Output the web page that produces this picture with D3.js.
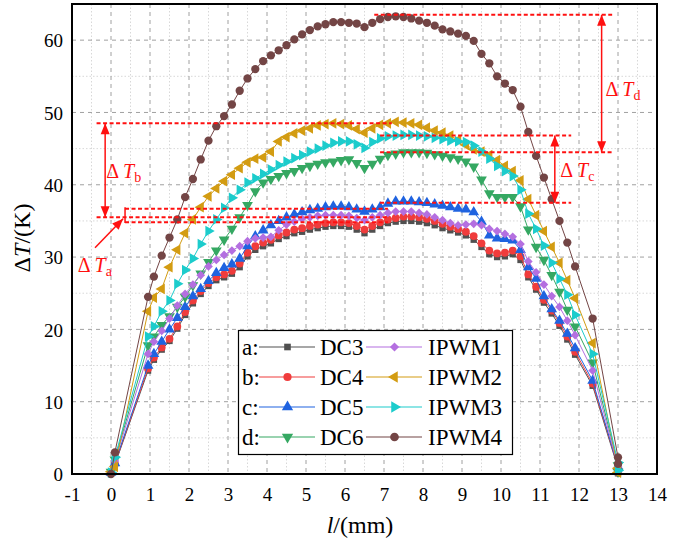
<!DOCTYPE html>
<html><head><meta charset="utf-8">
<script src="https://cdn.jsdelivr.net/npm/d3@7"></script>
<style>body{margin:0;background:#fff}svg{display:block}svg text{font-family:"Liberation Serif","Times New Roman","DejaVu Serif",serif}</style>
</head><body><svg id="c" width="681" height="549"></svg>
<script>
// ---- data ----
const xs = [0,0.1,0.95,1.1,1.3,1.5,1.7,1.9,2.1,2.3,2.5,2.7,2.9,3.1,3.3,3.5,3.7,3.9,4.1,4.3,4.5,4.7,4.9,5.1,5.3,5.5,5.7,5.9,6.1,6.3,6.5,6.7,6.9,7.1,7.3,7.5,7.7,7.9,8.1,8.3,8.5,8.7,8.9,9.1,9.3,9.5,9.7,9.9,10.1,10.3,10.5,10.7,10.9,11.1,11.3,11.5,11.7,11.9,12.35,13,13];
const dc3 = [0.1,1.3,14.3, 15.8,17.2,18.4,20.1,22.0, 23.6,24.9,26.0,26.8,27.2, 27.7,28.6,30.1,31.0,31.5, 31.9,32.5,32.9,33.3,33.5, 33.8,34.0,34.2,34.3,34.3, 34.2,33.8,33.3,33.8,34.3, 34.7,34.9,35.0,35.0,34.9, 34.7,34.4,34.0,33.7,33.4, 33.0,32.4,31.4,30.4,30.0, 30.1,30.4,29.6,27.2,25.5, 23.7,22.2,20.5,18.6,16.5, 12.2,0.8,0.1];
const dc4 = [0.2,1.4,14.6, 16.1,17.5,18.7,20.4,22.4, 24.0,25.3,26.4,27.2,27.6, 28.1,29.1,30.6,31.5,32.0, 32.4,33.0,33.4,33.8,34.0, 34.3,34.5,34.7,34.8,34.8, 34.7,34.3,33.8,34.3,34.8, 35.2,35.4,35.6,35.6,35.5, 35.3,35.0,34.6,34.2,33.9, 33.5,32.9,31.9,30.9,30.5, 30.6,30.9,30.1,27.6,25.9, 24.1,22.6,20.9,19.0,16.9, 12.5,1.0,0.2];
const dc5 = [0.2,1.5,15.0, 16.6,18.3,20.0,21.6,23.1, 24.6,25.6,26.7,27.8,28.5, 29.0,29.8,31.5,32.9,33.7, 34.4,35.0,35.5,35.9,36.2, 36.5,36.7,36.9,37.0,37.0, 36.9,36.6,36.3,36.6,36.9, 37.4,37.7,37.7,37.7,37.6, 37.5,37.3,37.1,36.9,36.7, 36.6,36.2,34.9,33.0,32.6, 32.5,32.3,31.0,28.6,27.0, 24.6,22.8,21.2,19.4,17.4, 12.9,1.0,0.3];
const dc6 = [0.3,2.0,17.8, 19.0,20.6,21.8,23.1,24.5, 26.1,27.7,29.3,30.9,32.4, 33.9,35.5,37.2,39.1,40.3, 40.8,41.2,41.6,41.9,42.3, 42.6,42.9,43.1,43.2,43.4, 43.5,43.0,42.3,42.9,43.6, 44.1,44.3,44.5,44.5,44.5, 44.4,44.2,44.0,43.8,43.6, 43.2,42.5,40.7,38.8,38.3, 38.3,38.3,37.0,33.8,31.4, 29.6,27.5,25.2,22.7,20.4, 15.4,1.2,0.3];
const ipwm1 = [0.3,1.8,16.6, 18.3,19.8,21.5,23.3,24.9, 26.2,27.5,28.7,29.6,30.3, 30.9,31.5,32.2,32.6,32.7, 32.8,33.7,34.5,34.9,35.3, 35.5,35.7,35.8,35.8,35.8, 35.7,35.4,35.1,35.5,35.8, 36.1,36.3,36.3,36.3,36.1, 35.9,35.5,35.1,34.7,34.4, 34.5,34.6,34.4,33.9,33.6, 33.2,32.8,31.8,29.4,27.9, 26.2,24.6,23.1,21.2,19.2, 14.3,1.0,0.3];
const ipwm2 = [0.3,1.0,22.5, 24.4,25.6,28.6,31.0,33.3, 35.2,36.9,38.4,39.5,40.5, 41.4,42.3,43.1,43.6,43.8, 44.6,46.0,46.6,47.1,47.5, 47.8,48.2,48.4,48.5,48.4, 48.2,47.7,47.2,47.8,48.3, 48.5,48.7,48.6,48.5,48.3, 47.9,47.5,47.2,46.8,46.2, 45.5,44.9,44.6,44.1,43.4, 42.6,41.9,40.6,38.0,35.8, 33.6,31.4,29.2,26.8,24.3, 18.1,0.8,0.2];
const ipwm3 = [0.2,2.3,19.0, 20.4,22.5,24.0,26.3,28.2, 29.8,31.8,33.6,35.2,36.8, 38.2,39.3,40.3,40.9,41.5, 42.1,42.7,43.2,43.7,44.1, 44.6,45.0,45.4,45.8,46.0, 46.0,45.6,45.1,45.9,46.4, 46.7,46.8,46.9,46.9,46.8, 46.7,46.5,46.3,46.1,46.0, 45.9,45.4,44.6,43.6,42.6, 41.9,41.2,39.3,36.0,33.9, 31.6,29.2,27.0,24.8,22.0, 16.6,1.6,0.5];
const ipwm4 = [0,3.0,24.5, 27.3,30.2,32.7,35.2,38.3, 40.8,43.5,46.1,48.1,49.5, 51.1,53.0,54.7,56.0,57.1, 57.9,58.6,59.3,60.1,60.8, 61.4,61.9,62.2,62.5,62.5, 62.4,62.3,61.8,62.4,62.9, 63.2,63.3,63.2,63.0,62.7, 62.4,62.0,61.5,61.2,60.9, 60.6,59.9,58.1,56.8,55.0, 54.0,53.1,50.8,47.3,44.0, 41.0,38.0,35.0,32.0,28.7, 21.5,2.3,1.4];
const seriesNames = ["DC3","DC4","DC5","DC6","IPWM1","IPWM2","IPWM3","IPWM4"];
const rowLetters = ["a:","b:","c:","d:"];
const xTicks = [-1,0,1,2,3,4,5,6,7,8,9,10,11,12,13,14];
const yTicks = [0,10,20,30,40,50,60];

const seriesValues = [dc3,dc4,dc5,dc6,ipwm1,ipwm2,ipwm3,ipwm4];
const colors = ["#505050","#f03c3c","#1f63e0","#35a862","#b46fe0","#d39c12","#1ccccc","#734545"];
const shapes = [
  {t:d3.symbolSquare,s:40,r:0},
  {t:d3.symbolCircle,s:48,r:0},
  {t:d3.symbolTriangle,s:50,r:0},
  {t:d3.symbolTriangle,s:50,r:180},
  {t:d3.symbolSquare,s:38,r:45},
  {t:d3.symbolTriangle,s:50,r:-90},
  {t:d3.symbolTriangle,s:50,r:90},
  {t:d3.symbolCircle,s:54,r:0}
];

const svg = d3.select("#c");
const L=72,R=657,T=4,B=474;
const x = d3.scaleLinear().domain([-1,14]).range([L,R]);
const y = d3.scaleLinear().domain([0,65]).range([B,T]);

// grid
const g = svg.append("g");
d3.range(-0.5,14,1).forEach(v=>g.append("line").attr("x1",x(v)).attr("x2",x(v)).attr("y1",T).attr("y2",B).attr("stroke","#d8d8d8").attr("stroke-width",1).attr("stroke-dasharray","1.5,2"));
[5,15,25,35,45,55].forEach(v=>g.append("line").attr("x1",L).attr("x2",R).attr("y1",y(v)).attr("y2",y(v)).attr("stroke","#d8d8d8").attr("stroke-width",1).attr("stroke-dasharray","1.5,2"));
d3.range(0,14).forEach(v=>g.append("line").attr("x1",x(v)).attr("x2",x(v)).attr("y1",T).attr("y2",B).attr("stroke","#a0a0a0").attr("stroke-width",1).attr("stroke-dasharray","4,4"));
[10,20,30,40,50,60].forEach(v=>g.append("line").attr("x1",L).attr("x2",R).attr("y1",y(v)).attr("y2",y(v)).attr("stroke","#a0a0a0").attr("stroke-width",1).attr("stroke-dasharray","4,4"));

// axes (labels only)
const xAxis = d3.axisBottom(x).tickValues(xTicks).tickFormat(d=>String(d)).tickSize(0).tickPadding(10);
const ax = svg.append("g").attr("transform",`translate(0,${B})`).call(xAxis);
ax.attr("font-family",null);
ax.select(".domain").remove();
ax.selectAll("text").attr("font-size",19).attr("fill","#000").attr("dy","0.9em");
const yAxis = d3.axisLeft(y).tickValues(yTicks).tickFormat(d=>String(d)).tickSize(0).tickPadding(9);
const ay = svg.append("g").attr("transform",`translate(${L},0)`).call(yAxis);
ay.attr("font-family",null);
ay.select(".domain").remove();
ay.selectAll("text").attr("font-size",19).attr("fill","#000").attr("dy","0.35em");

// series
const line = d3.line().x(d=>x(d[0])).y(d=>y(d[1]));
seriesValues.forEach((vals,i)=>{
  const pts = xs.map((xv,j)=>[xv,vals[j]]);
  const sg = svg.append("g");
  sg.append("path").attr("d",line(pts)).attr("fill","none").attr("stroke",colors[i]).attr("stroke-width",1);
  const sym = d3.symbol().type(shapes[i].t).size(shapes[i].s);
  sg.selectAll("path.m").data(pts).enter().append("path").attr("class","m")
    .attr("d",sym).attr("fill",colors[i])
    .attr("transform",d=>`translate(${x(d[0])},${y(d[1])}) rotate(${shapes[i].r})`);
});

// frame
svg.append("rect").attr("x",L).attr("y",T).attr("width",R-L).attr("height",B-T).attr("fill","none").attr("stroke","#000").attr("stroke-width",2);

// annotations
const red="#ff1010";
const an = svg.append("g");
function dash(x1,x2,v){an.append("line").attr("x1",x(x1)).attr("x2",x(x2)).attr("y1",y(v)).attr("y2",y(v)).attr("stroke",red).attr("stroke-width",2).attr("stroke-dasharray","4,2.5");}
function head(px,py,ang){
  an.append("path").attr("d","M0,0 L-11,-4.5 L-11,4.5 Z").attr("fill",red)
    .attr("transform",`translate(${px},${py}) rotate(${ang})`);
}
function varrow(xv,v1,v2,dbl){
  const px=x(xv), p1=y(v1), p2=y(v2);
  an.append("line").attr("x1",px).attr("x2",px).attr("y1",p1).attr("y2",p2).attr("stroke",red).attr("stroke-width",1.5);
  head(px,p2,p2>p1?90:-90);
  if(dbl) head(px,p1,p1>p2?90:-90);
}
function label(xv,v,sub){
  const t=an.append("text").attr("x",x(xv)).attr("y",y(v)).attr("font-size",20).attr("fill",red);
  t.append("tspan").text("Δ ");
  t.append("tspan").attr("font-style","italic").text("T");
  t.append("tspan").attr("font-size",14).attr("dy",4).text(sub);
}
dash(-0.37,7.2,48.5);
dash(-0.37,7.1,35.5);
dash(0.36,7.1,36.7);
dash(0.36,7.1,34.8);
an.append("line").attr("x1",x(0.36)).attr("x2",x(0.36)).attr("y1",y(36.9)).attr("y2",y(34.7)).attr("stroke",red).attr("stroke-width",1.5);
varrow(-0.15,48.5,35.5,true);
label(-0.12,41.0,"b");
{ const x1=x(-0.41),y1=y(31.3),x2=x(0.31),y2=y(35.3);
  an.append("line").attr("x1",x1).attr("y1",y1).attr("x2",x2).attr("y2",y2).attr("stroke",red).attr("stroke-width",1.5);
  head(x2,y2,Math.atan2(y2-y1,x2-x1)*180/Math.PI); }
label(-0.85,28.0,"a");
dash(6.9,11.8,46.8);
dash(6.9,11.8,37.5);
dash(6.9,12.85,44.5);
dash(6.75,12.85,63.5);
varrow(11.38,46.8,37.5,true);
label(11.52,41.1,"c");
varrow(12.58,63.5,44.5,true);
label(12.68,52.3,"d");

// legend
const lg = svg.append("g");
lg.append("rect").attr("x",238.5).attr("y",330.5).attr("width",274).attr("height",124).attr("fill","#fff").attr("stroke","#000").attr("stroke-width",1.2);
const rowY=[347,377,407,437];
seriesNames.forEach((n,i)=>{
  const col = i<4?0:1, r=i%4, cy=rowY[r];
  const lx1 = col===0?259:366, lx2 = col===0?315:422, mx=(lx1+lx2)/2+0.5;
  if(col===0) lg.append("text").attr("x",242).attr("y",cy+8).attr("font-size",23).text(rowLetters[r]);
  lg.append("line").attr("x1",lx1).attr("x2",lx2).attr("y1",cy).attr("y2",cy).attr("stroke",colors[i]).attr("stroke-width",1.2);
  lg.append("path").attr("d",d3.symbol().type(shapes[i].t).size(shapes[i].s*1.1)).attr("fill",colors[i])
    .attr("transform",`translate(${mx},${cy}) rotate(${shapes[i].r})`);
  lg.append("text").attr("x",col===0?320:428).attr("y",cy+8).attr("font-size",23).text(n);
});

// axis titles
const yt = svg.append("text").attr("transform","translate(30,238) rotate(-90)").attr("text-anchor","middle").attr("font-size",24);
yt.append("tspan").text("Δ");
yt.append("tspan").attr("font-style","italic").text("T");
yt.append("tspan").text("/(K)");
const xt = svg.append("text").attr("x",360).attr("y",533).attr("text-anchor","middle").attr("font-size",24);
xt.append("tspan").attr("font-style","italic").text("l");
xt.append("tspan").text("/(mm)");
</script></body></html>
